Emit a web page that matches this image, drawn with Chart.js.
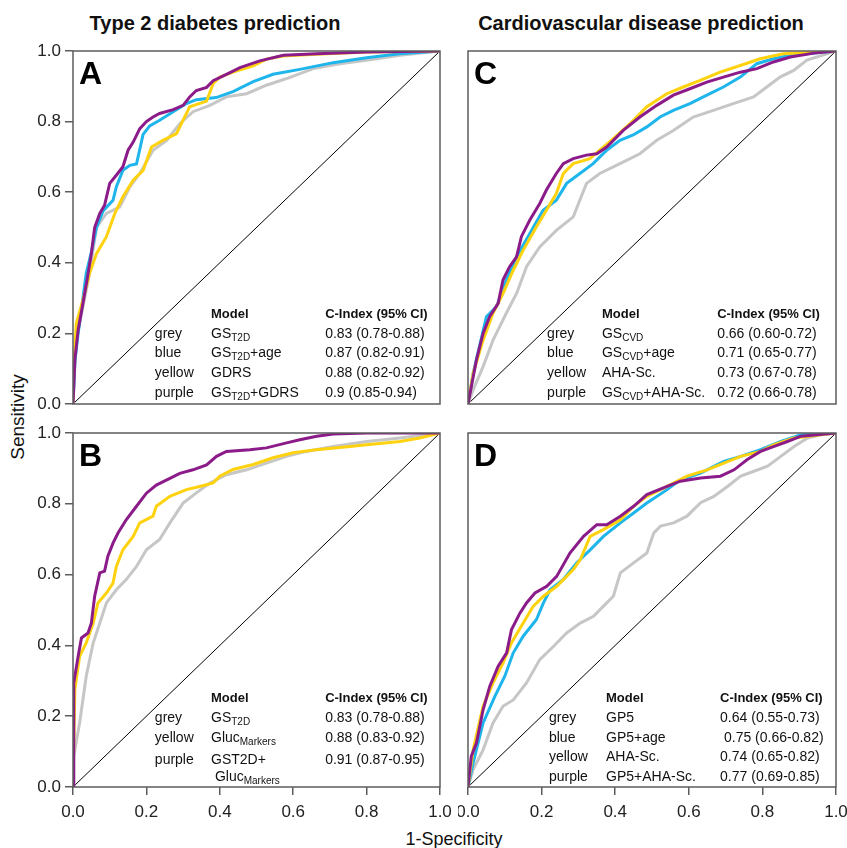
<!DOCTYPE html>
<html>
<head>
<meta charset="utf-8">
<script src="https://cdn.jsdelivr.net/npm/chart.js@4.4.1/dist/chart.umd.min.js"></script>
<style>
  html, body { margin: 0; padding: 0; background: #fff; }
  #wrap { position: relative; width: 847px; height: 848px; overflow: hidden; font-family: 'Liberation Sans', Arial, sans-serif; color: #111; }
  canvas { position: absolute; }
  .title { position: absolute; top: 12px; font-weight: bold; font-size: 20px; white-space: nowrap; transform: translateX(-50%); }
  #ylab { position: absolute; left: 18px; top: 417px; font-size: 19px; white-space: nowrap; transform: translate(-50%, -50%) rotate(-90deg); }
  #xlab { position: absolute; left: 454px; top: 829px; font-size: 18px; white-space: nowrap; transform: translateX(-50%); }
</style>
</head>
<body>
<div id="wrap">
  <div class="title" style="left:215px">Type 2 diabetes prediction</div>
  <div class="title" style="left:641px">Cardiovascular disease prediction</div>
  <div id="ylab">Sensitivity</div>
  <div id="xlab">1-Specificity</div>
  <canvas id="panelA" width="460" height="389" style="left:0;top:31px"></canvas>
  <canvas id="panelC" width="389" height="389" style="left:458px;top:31px"></canvas>
  <canvas id="panelB" width="460" height="435" style="left:0;top:413px"></canvas>
  <canvas id="panelD" width="389" height="435" style="left:458px;top:413px"></canvas>
</div>
<script>
const FONT = "'Liberation Sans', Arial, sans-serif";
const FRAME = '#5c5c5c';
const GREY = '#c6c6c6', BLUE = '#1eb5ec', YELLOW = '#fed20f', PURPLE = '#8c1b8a';

const TICKS = [0, 0.2, 0.4, 0.6, 0.8, 1.0];
const DIAGONAL = [[0, 0], [1, 1]];

// ROC points [1-specificity, sensitivity]
const A_GREY = [[0,0],[0.009,0.18],[0.027,0.275],[0.045,0.37],[0.064,0.5],[0.091,0.54],[0.127,0.558],[0.155,0.615],[0.182,0.653],[0.218,0.719],[0.255,0.747],[0.291,0.794],[0.327,0.828],[0.373,0.846],[0.418,0.87],[0.473,0.879],[0.527,0.903],[0.582,0.922],[0.655,0.95],[0.727,0.964],[0.8,0.974],[0.891,0.988],[1,1]];
const A_BLUE = [[0,0],[0.005,0.12],[0.014,0.2],[0.027,0.3],[0.036,0.37],[0.05,0.43],[0.064,0.5],[0.082,0.547],[0.109,0.577],[0.118,0.615],[0.136,0.662],[0.155,0.676],[0.173,0.68],[0.191,0.764],[0.209,0.788],[0.236,0.804],[0.273,0.828],[0.309,0.851],[0.336,0.862],[0.39,0.868],[0.436,0.885],[0.491,0.913],[0.545,0.934],[0.618,0.948],[0.709,0.967],[0.8,0.981],[0.89,0.992],[1,1]];
const A_YELLOW = [[0,0],[0.003,0.12],[0.009,0.228],[0.027,0.294],[0.045,0.37],[0.064,0.426],[0.091,0.474],[0.114,0.54],[0.136,0.587],[0.164,0.634],[0.191,0.662],[0.214,0.728],[0.245,0.747],[0.282,0.766],[0.3,0.804],[0.318,0.842],[0.364,0.858],[0.382,0.908],[0.4,0.926],[0.436,0.94],[0.491,0.958],[0.527,0.977],[0.573,0.986],[0.664,0.991],[0.8,0.997],[1,1]];
const A_PURPLE = [[0,0],[0.005,0.125],[0.014,0.21],[0.027,0.285],[0.038,0.35],[0.05,0.426],[0.059,0.5],[0.073,0.54],[0.086,0.563],[0.1,0.625],[0.118,0.648],[0.136,0.672],[0.15,0.719],[0.164,0.742],[0.182,0.78],[0.2,0.8],[0.218,0.813],[0.236,0.823],[0.273,0.834],[0.3,0.846],[0.318,0.87],[0.336,0.888],[0.364,0.897],[0.382,0.916],[0.418,0.934],[0.455,0.953],[0.509,0.972],[0.573,0.988],[0.664,0.992],[0.8,0.997],[1,1]];

const B_GREY = [[0,0],[0.002,0.087],[0.018,0.181],[0.036,0.313],[0.055,0.407],[0.073,0.463],[0.091,0.52],[0.118,0.557],[0.145,0.586],[0.173,0.623],[0.2,0.67],[0.236,0.699],[0.264,0.746],[0.3,0.802],[0.336,0.831],[0.373,0.859],[0.418,0.882],[0.473,0.896],[0.527,0.915],[0.582,0.934],[0.636,0.948],[0.709,0.962],[0.8,0.976],[0.891,0.986],[1,1]];
const B_YELLOW = [[0,0],[0.005,0.275],[0.018,0.369],[0.036,0.407],[0.055,0.463],[0.068,0.52],[0.091,0.548],[0.109,0.576],[0.118,0.623],[0.136,0.67],[0.164,0.708],[0.182,0.746],[0.218,0.765],[0.227,0.793],[0.264,0.821],[0.309,0.84],[0.345,0.849],[0.382,0.859],[0.4,0.878],[0.436,0.897],[0.491,0.911],[0.545,0.93],[0.6,0.944],[0.664,0.953],[0.755,0.962],[0.8,0.967],[0.891,0.976],[0.945,0.986],[1,1]];
const B_PURPLE = [[0,0],[0.002,0.294],[0.014,0.369],[0.023,0.421],[0.041,0.435],[0.05,0.463],[0.059,0.539],[0.073,0.605],[0.086,0.61],[0.095,0.652],[0.109,0.689],[0.123,0.718],[0.145,0.755],[0.173,0.793],[0.2,0.83],[0.227,0.853],[0.264,0.872],[0.291,0.886],[0.327,0.896],[0.364,0.91],[0.391,0.934],[0.418,0.948],[0.482,0.953],[0.527,0.958],[0.582,0.972],[0.618,0.981],[0.664,0.991],[0.709,0.997],[0.8,1],[1,1]];

const C_GREY = [[0,0],[0.014,0.04],[0.041,0.106],[0.068,0.181],[0.104,0.257],[0.132,0.313],[0.159,0.389],[0.195,0.445],[0.24,0.492],[0.286,0.53],[0.322,0.625],[0.358,0.653],[0.413,0.681],[0.467,0.709],[0.513,0.747],[0.558,0.775],[0.612,0.813],[0.667,0.832],[0.721,0.851],[0.776,0.87],[0.812,0.898],[0.848,0.926],[0.885,0.945],[0.921,0.974],[1,1]];
const C_BLUE = [[0,0],[0.014,0.087],[0.05,0.247],[0.077,0.275],[0.104,0.351],[0.132,0.417],[0.168,0.483],[0.204,0.549],[0.24,0.577],[0.268,0.625],[0.304,0.653],[0.34,0.681],[0.377,0.719],[0.413,0.747],[0.449,0.762],[0.486,0.785],[0.522,0.813],[0.558,0.832],[0.603,0.851],[0.649,0.875],[0.694,0.898],[0.74,0.926],[0.785,0.964],[0.83,0.978],[0.876,0.988],[1,1]];
const C_YELLOW = [[0,0],[0.014,0.087],[0.041,0.181],[0.068,0.257],[0.095,0.313],[0.123,0.379],[0.15,0.436],[0.186,0.502],[0.213,0.549],[0.24,0.596],[0.259,0.653],[0.286,0.681],[0.331,0.695],[0.358,0.719],[0.395,0.752],[0.44,0.794],[0.486,0.842],[0.54,0.879],[0.585,0.898],[0.631,0.917],[0.685,0.94],[0.74,0.959],[0.794,0.978],[0.857,0.992],[1,1]];
const C_PURPLE = [[0,0],[0.009,0.049],[0.023,0.125],[0.041,0.2],[0.059,0.248],[0.082,0.285],[0.095,0.351],[0.113,0.389],[0.132,0.417],[0.145,0.474],[0.168,0.521],[0.195,0.568],[0.213,0.606],[0.24,0.653],[0.259,0.681],[0.286,0.695],[0.322,0.705],[0.35,0.709],[0.377,0.728],[0.422,0.775],[0.467,0.813],[0.513,0.846],[0.558,0.875],[0.603,0.893],[0.649,0.912],[0.694,0.926],[0.74,0.94],[0.785,0.95],[0.83,0.969],[0.876,0.983],[0.94,0.994],[1,1]];

const D_GREY = [[0,0],[0.014,0.049],[0.041,0.105],[0.068,0.181],[0.095,0.228],[0.123,0.246],[0.159,0.294],[0.195,0.36],[0.232,0.397],[0.268,0.435],[0.305,0.463],[0.341,0.482],[0.377,0.52],[0.395,0.539],[0.414,0.605],[0.45,0.633],[0.486,0.661],[0.505,0.718],[0.523,0.737],[0.559,0.746],[0.595,0.765],[0.632,0.803],[0.668,0.821],[0.705,0.849],[0.741,0.878],[0.777,0.892],[0.814,0.906],[0.85,0.934],[0.886,0.962],[0.923,0.986],[0.959,0.995],[1,1]];
const D_BLUE = [[0,0],[0.014,0.068],[0.041,0.181],[0.073,0.256],[0.1,0.313],[0.123,0.379],[0.15,0.426],[0.186,0.473],[0.205,0.52],[0.223,0.557],[0.259,0.586],[0.295,0.633],[0.332,0.67],[0.368,0.708],[0.414,0.746],[0.45,0.774],[0.486,0.802],[0.541,0.84],[0.577,0.868],[0.632,0.887],[0.695,0.92],[0.741,0.934],[0.795,0.953],[0.85,0.976],[0.905,0.995],[1,1]];
const D_YELLOW = [[0,0],[0.014,0.105],[0.041,0.228],[0.068,0.294],[0.095,0.35],[0.118,0.407],[0.15,0.463],[0.177,0.51],[0.205,0.539],[0.241,0.567],[0.268,0.595],[0.286,0.614],[0.305,0.642],[0.332,0.708],[0.368,0.727],[0.414,0.755],[0.45,0.793],[0.486,0.821],[0.541,0.849],[0.595,0.878],[0.65,0.896],[0.695,0.915],[0.741,0.934],[0.795,0.948],[0.832,0.967],[0.886,0.986],[1,1]];
const D_PURPLE = [[0,0],[0.009,0.087],[0.023,0.124],[0.041,0.218],[0.059,0.284],[0.082,0.341],[0.105,0.379],[0.118,0.444],[0.141,0.491],[0.159,0.52],[0.182,0.548],[0.214,0.567],[0.241,0.595],[0.277,0.661],[0.314,0.708],[0.35,0.741],[0.377,0.741],[0.414,0.765],[0.45,0.793],[0.486,0.826],[0.541,0.849],[0.577,0.864],[0.632,0.873],[0.686,0.878],[0.723,0.896],[0.759,0.925],[0.795,0.948],[0.832,0.962],[0.868,0.976],[0.905,0.991],[1,1]];

// table text; "_{..}" marks a subscript
const HEADER = ['', 'Model', 'C-Index (95% CI)'];
const TABLE_A = [
  ['grey', 'GS_{T2D}', '0.83 (0.78-0.88)'],
  ['blue', 'GS_{T2D}+age', '0.87 (0.82-0.91)'],
  ['yellow', 'GDRS', '0.88 (0.82-0.92)'],
  ['purple', 'GS_{T2D}+GDRS', '0.9 (0.85-0.94)']
];
const TABLE_B = [
  ['grey', 'GS_{T2D}', '0.83 (0.78-0.88)'],
  ['yellow', 'Gluc_{Markers}', '0.88 (0.83-0.92)'],
  ['purple', 'GST2D+', '0.91 (0.87-0.95)'],
  ['', ' Gluc_{Markers}', '']
];
const TABLE_C = [
  ['grey', 'GS_{CVD}', '0.66 (0.60-0.72)'],
  ['blue', 'GS_{CVD}+age', '0.71 (0.65-0.77)'],
  ['yellow', 'AHA-Sc.', '0.73 (0.67-0.78)'],
  ['purple', 'GS_{CVD}+AHA-Sc.', '0.72 (0.66-0.78)']
];
const TABLE_D = [
  ['grey', 'GP5', '0.64 (0.55-0.73)'],
  ['blue', 'GP5+age', ' 0.75 (0.66-0.82)'],
  ['yellow', 'AHA-Sc.', '0.74 (0.65-0.82)'],
  ['purple', 'GP5+AHA-Sc.', '0.77 (0.69-0.85)']
];

function drawRich(ctx, text, x, y, size, bold) {
  const w = bold ? 'bold ' : '';
  let cx = x;
  text.split(/(_\{[^}]*\})/).forEach(part => {
    if (!part) return;
    if (part.startsWith('_{')) {
      const s = part.slice(2, -1);
      ctx.font = `${w}${Math.round(size * 0.72)}px ${FONT}`;
      ctx.fillText(s, cx, y + size * 0.32);
      cx += ctx.measureText(s).width;
    } else {
      ctx.font = `${w}${size}px ${FONT}`;
      ctx.fillText(part, cx, y);
      cx += ctx.measureText(part).width;
    }
  });
}

const panelDecor = {
  id: 'panelDecor',
  afterDatasetsDraw(chart, args, opts) {
    const { ctx, chartArea: a, scales } = chart;
    const x = scales.x, y = scales.y;
    ctx.save();
    ctx.strokeStyle = FRAME;
    ctx.lineWidth = 1.5;
    ctx.strokeRect(a.left, a.top, a.right - a.left, a.bottom - a.top);

    ctx.fillStyle = '#000';
    ctx.textBaseline = 'alphabetic';
    ctx.font = `bold 32px ${FONT}`;
    ctx.fillText(opts.letter, a.left + 6, a.top + 33);

    ctx.textBaseline = 'middle';
    ctx.fillStyle = '#111';
    const cols = opts.cols.map(v => x.getPixelForValue(v));
    const rowsY = opts.rows.map(v => y.getPixelForValue(v));
    HEADER.forEach((t, i) => { if (t) drawRich(ctx, t, cols[i], rowsY[0], 13, true); });
    opts.table.forEach((row, r) => {
      row.forEach((t, i) => { if (t) drawRich(ctx, t, cols[i], rowsY[r + 1], 14, false); });
    });
    ctx.restore();
  }
};

function series(points, color, width) {
  return {
    data: points.map(([px, py]) => ({ x: px, y: py })),
    showLine: true,
    borderColor: color,
    backgroundColor: color,
    borderWidth: width,
    pointRadius: 0,
    tension: 0
  };
}

function axis(show, horizontal) {
  if (!show) return { type: 'linear', min: 0, max: 1, display: false };
  return {
    type: 'linear', min: 0, max: 1,
    border: { display: false },
    grid: { drawOnChartArea: false, drawTicks: true, tickLength: 8, color: FRAME, lineWidth: 1.5 },
    ticks: { color: '#222', font: { family: FONT, size: 17 }, padding: horizontal ? 7 : 4, autoSkip: false, maxRotation: 0, callback: v => v.toFixed(1) },
    afterBuildTicks: s => { s.ticks = TICKS.map(v => ({ value: v })); },
    afterFit: s => {
      if (horizontal) s.height = 30; else s.width = 73;
      s.paddingLeft = s.paddingRight = s.paddingTop = s.paddingBottom = 0;
    }
  };
}

function makePanel(id, cfg) {
  new Chart(document.getElementById(id), {
    type: 'scatter',
    data: {
      datasets: cfg.curves.concat([series(DIAGONAL, '#000', 1)])
    },
    options: {
      responsive: false,
      animation: false,
      events: [],
      layout: { padding: cfg.padding },
      plugins: {
        legend: { display: false },
        tooltip: { enabled: false },
        panelDecor: { letter: cfg.letter, table: cfg.table, cols: cfg.cols, rows: cfg.rows }
      },
      scales: { x: axis(cfg.showX, true), y: axis(cfg.showY, false) }
    },
    plugins: [panelDecor]
  });
}

// first dataset is drawn on top
makePanel('panelA', {
  letter: 'A', showX: false, showY: true,
  padding: { left: 0, top: 20, right: 20, bottom: 16 },
  curves: [series(A_PURPLE, PURPLE, 3), series(A_YELLOW, YELLOW, 3), series(A_BLUE, BLUE, 3), series(A_GREY, GREY, 3)],
  table: TABLE_A, cols: [0.223, 0.376, 0.687], rows: [0.255, 0.198, 0.144, 0.088, 0.031]
});
makePanel('panelC', {
  letter: 'C', showX: false, showY: false,
  padding: { left: 10, top: 20, right: 11, bottom: 16 },
  curves: [series(C_PURPLE, PURPLE, 3), series(C_YELLOW, YELLOW, 3), series(C_BLUE, BLUE, 3), series(C_GREY, GREY, 3)],
  table: TABLE_C, cols: [0.215, 0.364, 0.677], rows: [0.255, 0.198, 0.144, 0.088, 0.031]
});
makePanel('panelB', {
  letter: 'B', showX: true, showY: true,
  padding: { left: 0, top: 20, right: 20, bottom: 31 },
  curves: [series(B_PURPLE, PURPLE, 3), series(B_YELLOW, YELLOW, 3), series(B_GREY, GREY, 3)],
  table: TABLE_B, cols: [0.223, 0.376, 0.687], rows: [0.249, 0.195, 0.138, 0.076, 0.028]
});
makePanel('panelD', {
  letter: 'D', showX: true, showY: false,
  padding: { left: 10, top: 20, right: 11, bottom: 31 },
  curves: [series(D_PURPLE, PURPLE, 3), series(D_YELLOW, YELLOW, 3), series(D_BLUE, BLUE, 3), series(D_GREY, GREY, 3)],
  table: TABLE_D, cols: [0.22, 0.375, 0.685], rows: [0.251, 0.195, 0.138, 0.085, 0.028]
});
</script>
</body>
</html>
